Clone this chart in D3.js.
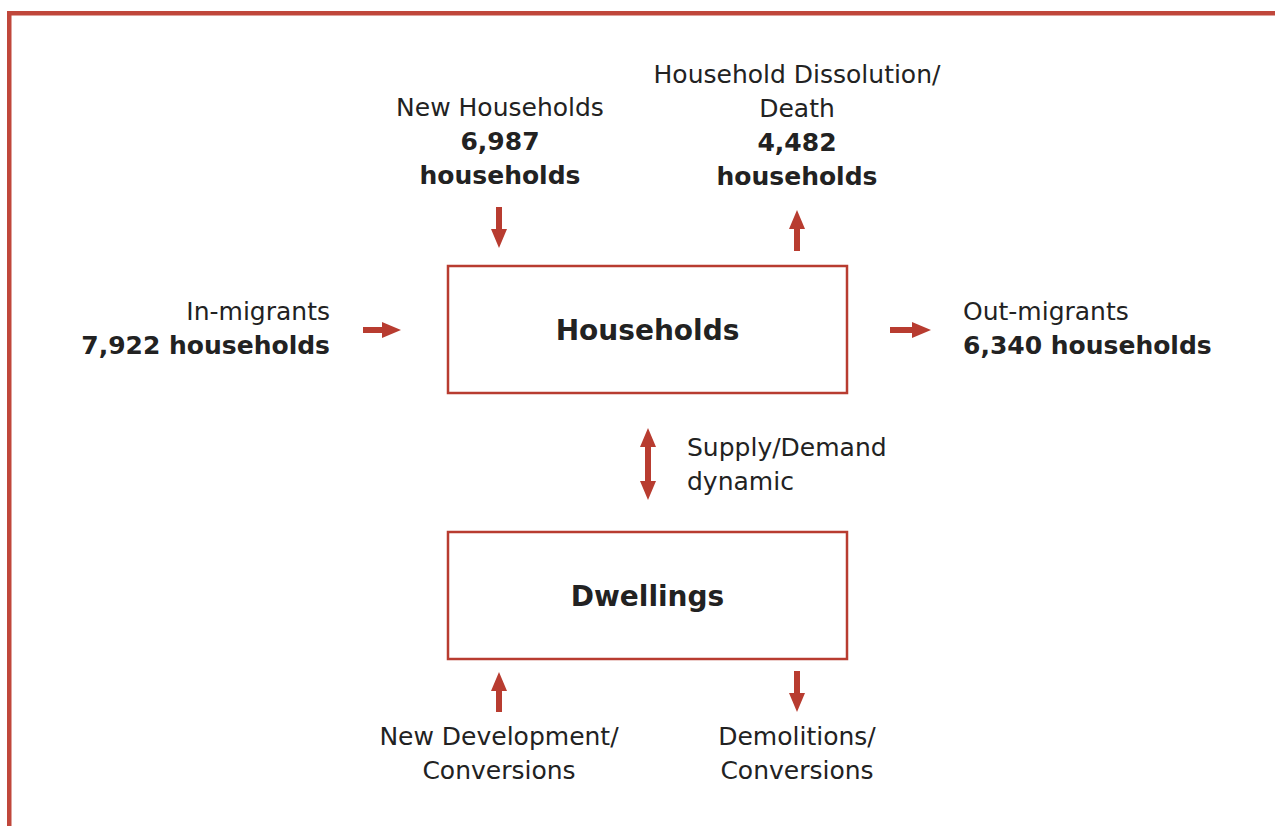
<!DOCTYPE html>
<meta charset="utf-8">
<style>
body { margin: 0; background: #fff; }
text { font-family: "DejaVu Sans", Verdana, sans-serif; fill: #222; }
</style>
<body>
<script src="https://d3js.org/d3.v7.min.js"></script>
<script>
// boxes
var boxNames = ["Households", "Dwellings"];

// flows into / out of the households box
var flowNames = ["In-migrants", "Out-migrants", "New Households", "Household Dissolution/ Death"];
var flowValues = [7922, 6340, 6987, 4482];
var flowUnit = "households";

// flows on the dwellings side (no values given)
var dwellingFlows = ["New Development/ Conversions", "Demolitions/ Conversions"];
var linkLabel = ["Supply/Demand", "dynamic"];

var red = "#b83c30", frameRed = "#c0473b";
var W = 1275, H = 826, fs = 25, lh = 34;
var fmt = d3.format(",");

// "A/ B" -> ["A/", "B"]
function splitSlash(s) {
    var parts = s.split("/ ");
    return parts.map(function(p, i) { return i < parts.length - 1 ? p + "/" : p; });
}

var svg = d3.select("body").append("svg")
    .attr("width", W).attr("height", H);

// frame
svg.append("rect").attr("x", 7).attr("y", 11).attr("width", 4.5).attr("height", H)
    .attr("fill", frameRed);
svg.append("rect").attr("x", 7).attr("y", 11).attr("width", W).attr("height", 4.5)
    .attr("fill", frameRed);

var boxX = 448, boxW = 399, boxH = 127;
var boxY = d3.scalePoint().domain(boxNames).range([266, 532]);

svg.selectAll("rect.box").data(boxNames).enter().append("rect")
    .attr("class", "box")
    .attr("x", boxX).attr("y", function(d) { return boxY(d); })
    .attr("width", boxW).attr("height", boxH)
    .attr("fill", "none").attr("stroke", red).attr("stroke-width", 2.5);

svg.selectAll("text.box").data(boxNames).enter().append("text")
    .attr("class", "box")
    .attr("x", boxX + boxW / 2)
    .attr("y", function(d) { return boxY(d) + boxH / 2 + 10; })
    .attr("text-anchor", "middle")
    .style("font-size", "28px").style("font-weight", "bold")
    .text(function(d) { return d; });

// arrow from (x1,y1) to (x2,y2), optionally double-headed
function arrow(x1, y1, x2, y2, both) {
    var hl = 19, hw = 8, sw = 3;
    var len = Math.hypot(x2 - x1, y2 - y1);
    var p = both
        ? [[0, 0], [hl, -hw], [hl, -sw], [len - hl, -sw], [len - hl, -hw], [len, 0],
           [len - hl, hw], [len - hl, sw], [hl, sw], [hl, hw]]
        : [[0, -sw], [len - hl, -sw], [len - hl, -hw], [len, 0], [len - hl, hw], [len - hl, sw], [0, sw]];
    var ang = Math.atan2(y2 - y1, x2 - x1) * 180 / Math.PI;
    svg.append("path")
        .attr("d", d3.line()(p) + "Z")
        .attr("transform", "translate(" + x1 + "," + y1 + ") rotate(" + ang + ")")
        .attr("fill", red);
}

function label(lines, x, y, anchor, boldFrom) {
    var t = svg.append("text").attr("text-anchor", anchor).style("font-size", fs + "px");
    lines.forEach(function(l, i) {
        t.append("tspan").attr("x", x).attr("y", y + i * lh)
            .style("font-weight", i >= boldFrom ? "bold" : "normal")
            .text(l);
    });
}

// in-migrants
label([flowNames[0], fmt(flowValues[0]) + " " + flowUnit], 330, 320, "end", 1);
arrow(363, 330, 401, 330);

// out-migrants
label([flowNames[1], fmt(flowValues[1]) + " " + flowUnit], 963, 320, "start", 1);
arrow(890, 330, 931, 330);

// new households
label([flowNames[2], fmt(flowValues[2]), flowUnit], 500, 116, "middle", 1);
arrow(499, 207, 499, 248);

// dissolution
var dis = splitSlash(flowNames[3]);
label(dis.concat([fmt(flowValues[3]), flowUnit]), 797, 83, "middle", 2);
arrow(797, 251, 797, 210);

// supply / demand
arrow(648, 428, 648, 500, true);
label(linkLabel, 687, 456, "start", 9);

// dwellings side
label(splitSlash(dwellingFlows[0]), 499, 745, "middle", 9);
arrow(499, 712, 499, 672);
label(splitSlash(dwellingFlows[1]), 797, 745, "middle", 9);
arrow(797, 671, 797, 712);
</script>
</body>
